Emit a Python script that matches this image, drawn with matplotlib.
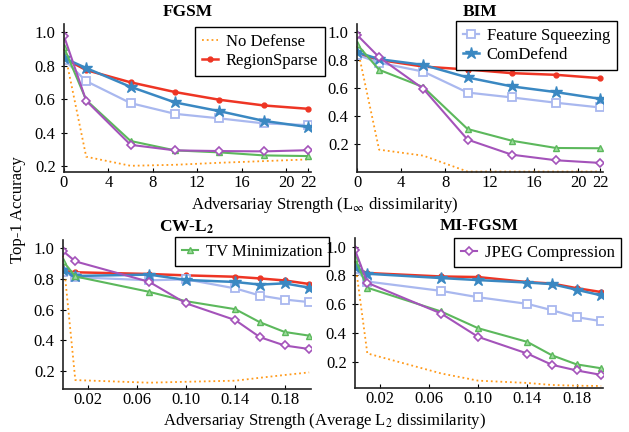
import numpy as np
import matplotlib
matplotlib.use("Agg")
import matplotlib.pyplot as plt

plt.rcParams['font.family'] = ['Liberation Serif', 'DejaVu Serif']
plt.rcParams['mathtext.fontset'] = 'stix'
plt.rcParams['font.size'] = 12

# x values
x_linf = [0, 2, 6, 10, 14, 18, 22]
x_l2 = [0, 0.01, 0.07, 0.10, 0.14, 0.16, 0.18, 0.20]

# FGSM
fgsm_none = [0.90, 0.256, 0.202, 0.208, 0.220, 0.230, 0.240]
fgsm_region = [0.843, 0.773, 0.700, 0.642, 0.596, 0.562, 0.542]
fgsm_squeeze = [0.836, 0.707, 0.576, 0.512, 0.485, 0.455, 0.445]
fgsm_comdef = [0.845, 0.785, 0.673, 0.580, 0.528, 0.470, 0.433]
fgsm_tv = [0.908, 0.594, 0.350, 0.294, 0.282, 0.264, 0.260]
fgsm_jpeg = [0.976, 0.590, 0.327, 0.294, 0.290, 0.288, 0.295]

# BIM
bim_none = [0.90, 0.157, 0.114, 0.0, 0.0, 0.0, 0.0]
bim_region = [0.840, 0.800, 0.752, 0.731, 0.705, 0.693, 0.669]
bim_squeeze = [0.836, 0.780, 0.716, 0.566, 0.531, 0.493, 0.459]
bim_comdef = [0.855, 0.805, 0.764, 0.674, 0.610, 0.569, 0.521]
bim_tv = [0.912, 0.729, 0.605, 0.305, 0.221, 0.169, 0.167]
bim_jpeg = [0.979, 0.819, 0.593, 0.229, 0.121, 0.081, 0.062]

# CW-L2
cw_none = [0.95, 0.141, 0.124, 0.130, 0.137, 0.156, 0.174, 0.191]
cw_region = [0.852, 0.842, 0.831, 0.822, 0.813, 0.802, 0.789, 0.766]
cw_squeeze = [0.845, 0.810, 0.790, 0.796, 0.737, 0.691, 0.665, 0.648]
cw_comdef = [0.855, 0.818, 0.827, 0.792, 0.779, 0.762, 0.770, 0.742]
cw_tv = [0.915, 0.815, 0.715, 0.654, 0.602, 0.517, 0.454, 0.430]
cw_jpeg = [0.980, 0.913, 0.780, 0.640, 0.531, 0.420, 0.366, 0.343]

# MI-FGSM
mi_none = [0.90, 0.259, 0.120, 0.070, 0.054, 0.040, 0.035, 0.033]
mi_region = [0.850, 0.817, 0.793, 0.789, 0.754, 0.744, 0.712, 0.685]
mi_squeeze = [0.845, 0.758, 0.693, 0.649, 0.603, 0.559, 0.511, 0.483]
mi_comdef = [0.860, 0.812, 0.782, 0.768, 0.751, 0.740, 0.701, 0.662]
mi_tv = [0.920, 0.715, 0.550, 0.434, 0.339, 0.246, 0.183, 0.156]
mi_jpeg = [0.978, 0.749, 0.536, 0.374, 0.258, 0.180, 0.141, 0.110]

c_none = '#ff9a1a'
c_region = '#ee3524'
c_squeeze = '#a9b8ef'
c_comdef = '#3a88c2'
c_tv = '#5cb85c'
c_jpeg = '#a453ba'


def draw(ax, x, none, region, squeeze, comdef, tv, jpeg):
    ax.plot(x, none, ':', color=c_none, lw=1.3, label='No Defense', clip_on=False)
    ax.plot(x, region, '-o', color=c_region, lw=1.8, ms=3.5, label='RegionSparse')
    ax.plot(x, squeeze, '-s', color=c_squeeze, lw=1.6, ms=6, mfc='white', mew=1.3,
            label='Feature Squeezing')
    ax.plot(x, comdef, '-*', color=c_comdef, lw=1.8, ms=9, label='ComDefend')
    ax.plot(x, tv, '-^', color=c_tv, lw=1.5, ms=5, mfc='#9ddc9d', mew=1.0,
            label='TV Minimization')
    ax.plot(x, jpeg, '-D', color=c_jpeg, lw=1.5, ms=4.5, mfc='white', mew=1.2,
            label='JPEG Compression')
    for s in ['top', 'right']:
        ax.spines[s].set_visible(False)
    for s in ['left', 'bottom']:
        ax.spines[s].set_linewidth(1.2)
        ax.spines[s].set_color('#222222')
    ax.tick_params(axis='x', labelsize=12, direction='in', length=3, pad=2.5)
    ax.tick_params(axis='y', labelsize=12, direction='inout', length=4, pad=4)


W, H = 629, 432
fig = plt.figure(figsize=(W / 100, H / 100), dpi=100)


def box(l, r, t, b):
    return [l / W, 1 - b / H, (r - l) / W, (b - t) / H]


ax1 = fig.add_axes(box(64, 311, 24, 172))
ax2 = fig.add_axes(box(357, 603, 24, 172))
ax3 = fig.add_axes(box(63, 311, 240, 389))
ax4 = fig.add_axes(box(355, 603, 238, 388))

draw(ax1, x_linf, fgsm_none, fgsm_region, fgsm_squeeze, fgsm_comdef, fgsm_tv, fgsm_jpeg)
draw(ax2, x_linf, bim_none, bim_region, bim_squeeze, bim_comdef, bim_tv, bim_jpeg)
draw(ax3, x_l2, cw_none, cw_region, cw_squeeze, cw_comdef, cw_tv, cw_jpeg)
draw(ax4, x_l2, mi_none, mi_region, mi_squeeze, mi_comdef, mi_tv, mi_jpeg)

linf_ticks = [0, 4, 8, 12, 16, 20, 22]
l2_ticks = [0.02, 0.06, 0.10, 0.14, 0.18]
y_ticks = [0.2, 0.4, 0.6, 0.8, 1.0]

for ax in (ax1, ax2):
    ax.set_xlim(0, 22.25)
    ax.set_xticks(linf_ticks)
    ax.set_xticklabels([str(t) for t in linf_ticks])
for ax in (ax3, ax4):
    ax.set_xlim(0, 0.2015)
    ax.set_xticks(l2_ticks)
    ax.set_xticklabels(['%.2f' % t for t in l2_ticks])
for ax in (ax1, ax2, ax3, ax4):
    ax.set_yticks(y_ticks)
    ax.set_yticklabels(['%.1f' % t for t in y_ticks])

ax1.set_ylim(0.165, 1.048)
ax2.set_ylim(-0.003, 1.057)
ax3.set_ylim(0.083, 1.052)
ax4.set_ylim(0.019, 1.06)

ax1.set_title('FGSM', fontweight='bold', fontsize=12.5, pad=6)
ax2.set_title('BIM', fontweight='bold', fontsize=12.5, pad=6)
ax3.set_title(r'CW-L$_\mathbf{2}$', fontweight='bold', fontsize=12.5, pad=6)
ax4.set_title('MI-FGSM', fontweight='bold', fontsize=12.5, pad=6)

h, lab = ax1.get_legend_handles_labels()
leg_kw = dict(fontsize=12, frameon=True, fancybox=False, edgecolor='black',
              framealpha=1, borderpad=0.4, labelspacing=0.2, handlelength=1.0,
              handletextpad=0.45, borderaxespad=0)
l1 = ax1.legend(h[0:2], lab[0:2], loc='upper left', bbox_to_anchor=(131 / 247, 1 - 3 / 148), **leg_kw)
l2 = ax2.legend(h[2:4], lab[2:4], loc='upper left', bbox_to_anchor=(99 / 246, 1 + 3 / 148), **leg_kw)
l3 = ax3.legend(h[4:5], lab[4:5], loc='upper left', bbox_to_anchor=(112 / 248, 1 + 3 / 149), **leg_kw)
l4 = ax4.legend(h[5:6], lab[5:6], loc='upper left', bbox_to_anchor=(99 / 248, 1 + 0 / 150), **leg_kw)
for lg in (l1, l2, l3, l4):
    lg.get_frame().set_linewidth(1.0)
    lg.set_zorder(5)

fig.text(18 / W, 1 - 210 / H, 'Top-1 Accuracy', rotation=90, ha='center', va='center', fontsize=12)
fig.text(325 / W, 1 - 205 / H, r'Adversariay Strength (L$_\infty$ dissimilarity)',
         ha='center', va='center', fontsize=12)
fig.text(325 / W, 1 - 421 / H, r'Adversariay Strength (Average L$_2$ dissimilarity)',
         ha='center', va='center', fontsize=12)

fig.savefig('out.png', dpi=100)
